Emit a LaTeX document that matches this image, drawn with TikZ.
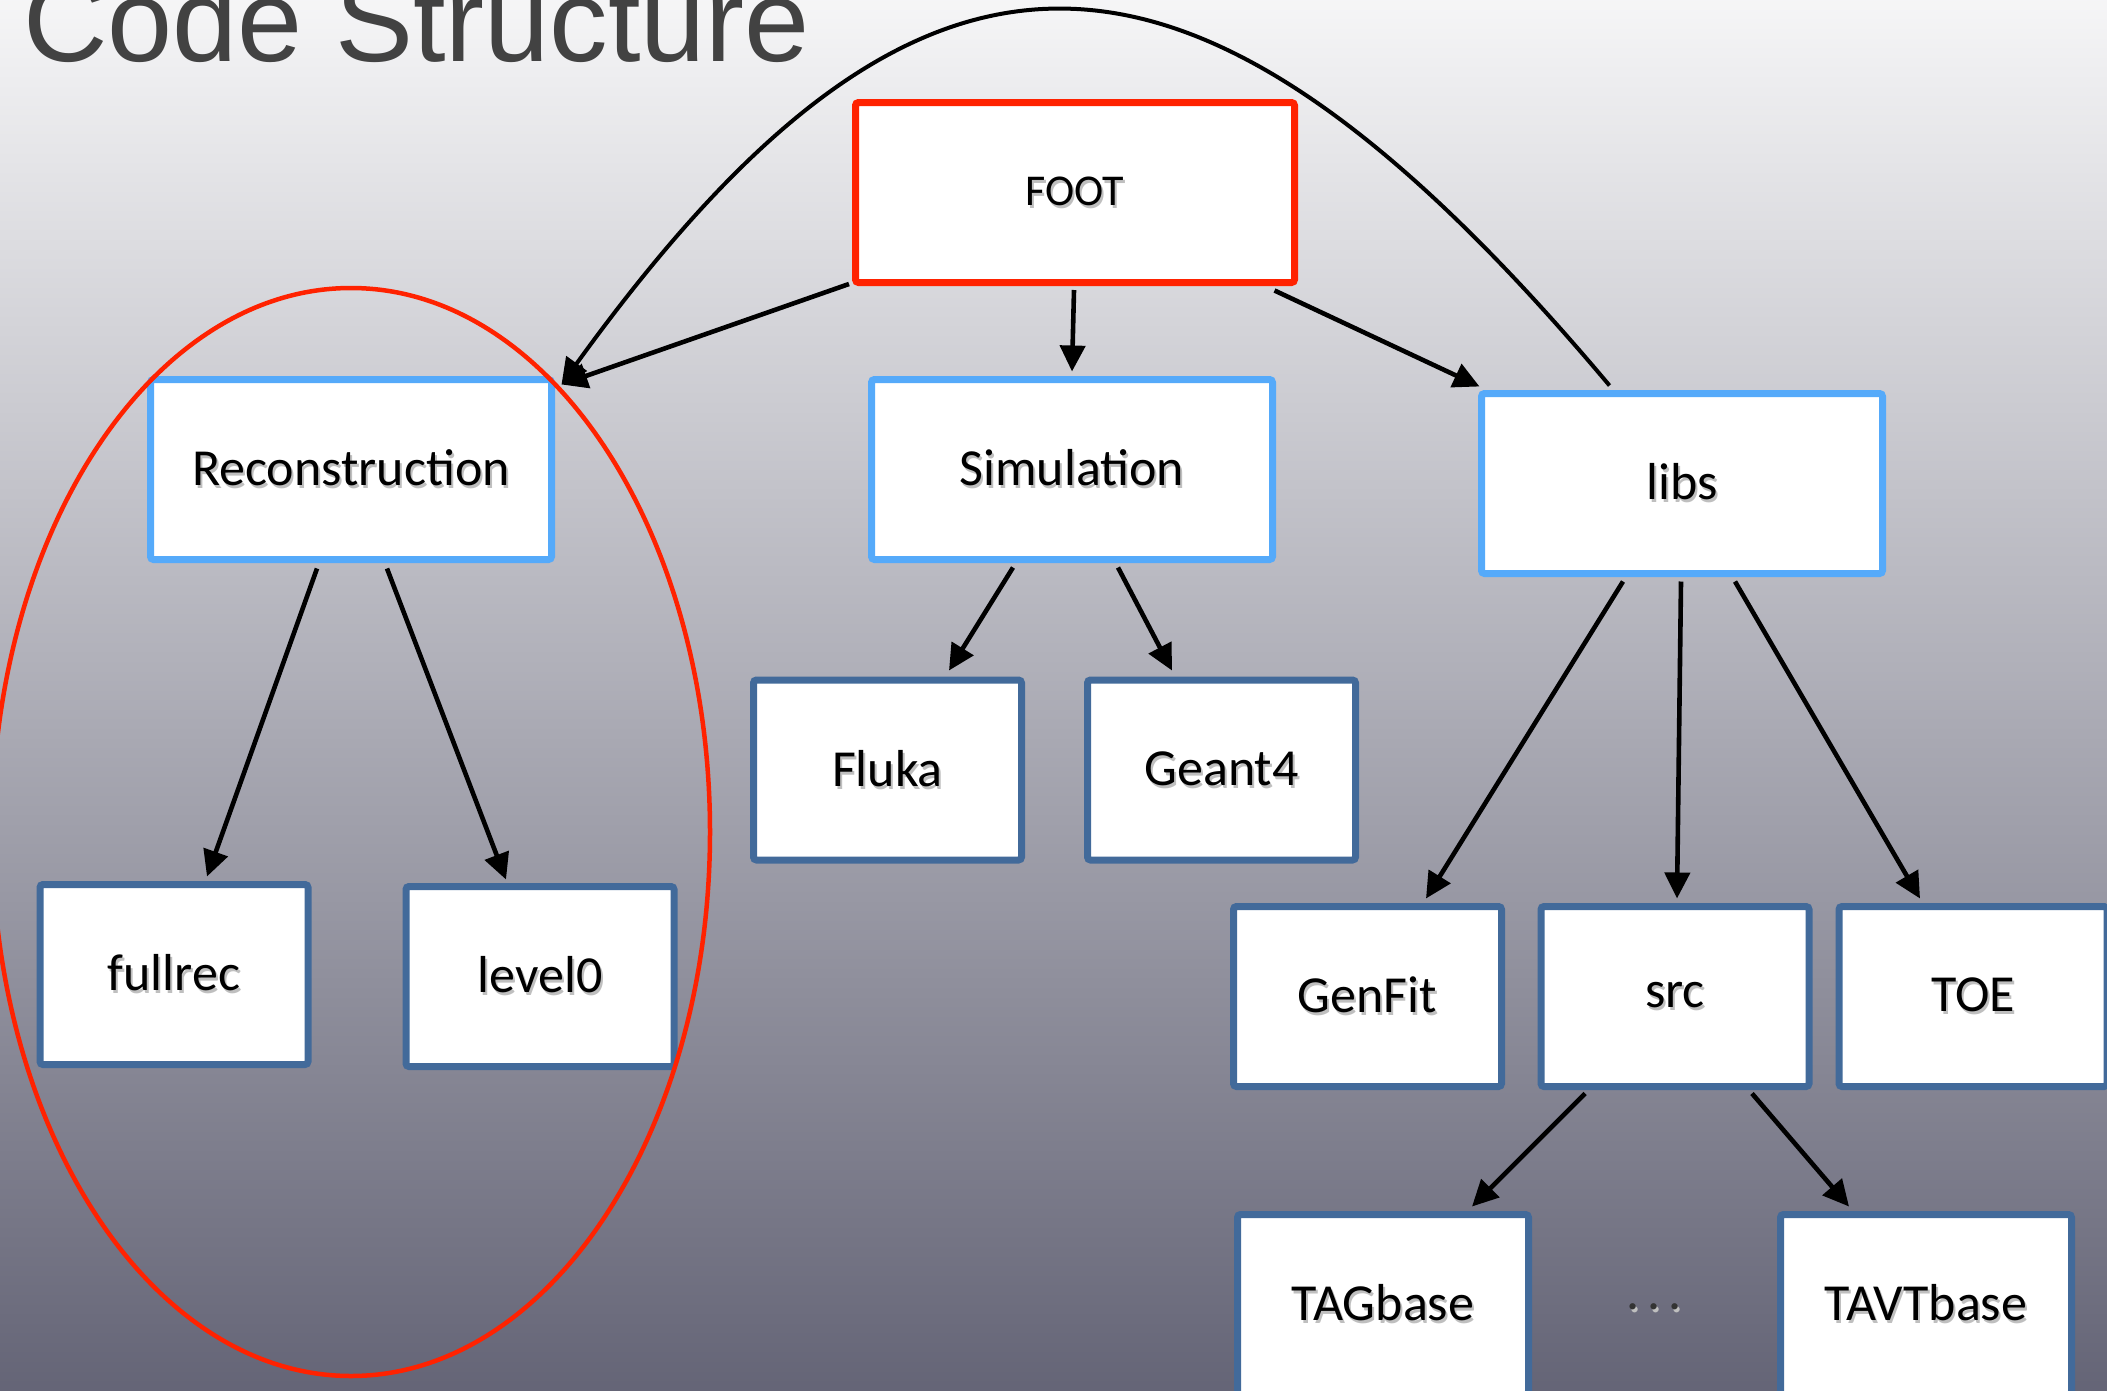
\documentclass[tikz,border=0pt]{standalone}
\usepackage{fontspec}
\setmainfont{Carlito}
\newfontfamily\titlefont{Liberation Sans}
\usetikzlibrary{arrows.meta,calc}
\definecolor{bgtop}{RGB}{246,246,247}
\definecolor{bgmid}{RGB}{178,178,186}
\definecolor{bgbot}{RGB}{100,100,118}
\definecolor{footred}{RGB}{255,34,0}
\definecolor{lightblue}{RGB}{85,170,250}
\definecolor{darkblue}{RGB}{66,106,154}
\definecolor{titlegray}{RGB}{66,66,66}
\newcommand{\shadowtext}[1]{\leavevmode\rlap{\hspace{2pt}\raisebox{-3pt}{\color{black!25}#1}}#1}
\begin{document}
\begin{tikzpicture}[x=1pt,y=-1pt,
  box/.style={draw, line width=7pt, fill=white, rounded corners=3pt, inner sep=0pt,
    font=\fontsize{52}{60}\selectfont, text=black},
  topbox/.style={box, draw=footred, minimum width=439pt, minimum height=180pt,
    font=\fontsize{44}{52}\selectfont},
  midbox/.style={box, draw=lightblue, minimum width=401pt, minimum height=180pt},
  leafbox/.style={box, draw=darkblue, minimum width=268pt, minimum height=180pt},
  wideleaf/.style={leafbox, minimum width=291pt},
  conn/.style={draw=black, line width=4.6pt, -{Triangle[length=26pt,width=25pt]}},
]
\useasboundingbox (0,0) rectangle (2107,1390);
\clip (0,0) rectangle (2107,1390);
\shade[top color=bgtop, middle color=bgmid, bottom color=bgbot] (-5,-5) rectangle (2112,1395);

% boxes
\node[topbox] (foot) at (1075,192.5) {\shadowtext{FOOT}};
\node[midbox] (rec) at (351,469.5) {\shadowtext{Reconstruction}};
\node[midbox] (sim) at (1072,469.5) {\shadowtext{Simulation}};
\node[midbox] (libs) at (1682,483.5) {\shadowtext{libs}};
\node[leafbox] (fluka) at (887.5,770) {\shadowtext{Fluka}};
\node[leafbox] (geant) at (1221.5,770) {\shadowtext{Geant4}};
\node[leafbox] (fullrec) at (174,974.5) {\shadowtext{fullrec}};
\node[leafbox] (level0) at (540,976.5) {\shadowtext{level0}};
\node[leafbox] (genfit) at (1367.5,996.5) {\shadowtext{GenFit}};
\node[leafbox] (src) at (1675,996.5) {\shadowtext{src}};
\node[leafbox] (toe) at (1973,996.5) {\shadowtext{TOE}};
\node[wideleaf] (tagbase) at (1383,1304.5) {\shadowtext{TAGbase}};
\node[wideleaf] (tavtbase) at (1926,1304.5) {\shadowtext{TAVTbase}};
\node[inner sep=0pt, font=\fontsize{52}{60}\selectfont, text=black!80] (dots) at (1654,1308) {\shadowtext{.\hspace{8pt}.\hspace{8pt}.}};

% red ellipse
\draw[footred, line width=4.5pt] (351,832) ellipse [x radius=359, y radius=544];

% connectors
\draw[conn] ($(foot.south west)+(-3,-2)$) -- ($(rec.north east)+(6.5,8.5)$);
\draw[conn, line width=4pt] ($(libs.north west)+(131.5,-4.5)$) .. controls (1190,-113.5) and (921,-113.5) .. ($(rec.north east)+(6.5,8.5)$);
\draw[conn] ($(foot.south)+(-1,4)$) -- ($(sim.north)+(0,-4.5)$);
\draw[conn] ($(foot.south east)+(-23.5,4.5)$) -- ($(libs.north west)+(1.5,-3.5)$);
\draw[conn] ($(rec.south)+(-34,5.5)$) -- ($(fullrec.north)+(33,-4.5)$);
\draw[conn] ($(rec.south)+(36,5.5)$) -- ($(level0.north)+(-34,-3.5)$);
\draw[conn] ($(sim.south)+(-59,4.5)$) -- ($(fluka.north)+(61.5,-6)$);
\draw[conn] ($(sim.south)+(46,4.5)$) -- ($(geant.north)+(-49.5,-6)$);
\draw[conn] ($(libs.south)+(-59,4.5)$) -- ($(genfit.north)+(58.5,-4.5)$);
\draw[conn] ($(libs.south)+(-1,4.5)$) -- ($(src.north)+(2,-4.5)$);
\draw[conn] ($(libs.south)+(53,4.5)$) -- ($(toe.north)+(-53,-4.5)$);
\draw[conn] ($(src.south)+(-90,3.5)$) -- ($(tagbase.north)+(89,-4.5)$);
\draw[conn] ($(src.south)+(77,3.5)$) -- ($(tavtbase.north)+(-77,-4.5)$);

% title
\node[anchor=base west, inner sep=0pt, font=\titlefont\fontsize{117}{124}\selectfont, text=titlegray] (title) at (23,61) {Code Structure};
\end{tikzpicture}
\end{document}
